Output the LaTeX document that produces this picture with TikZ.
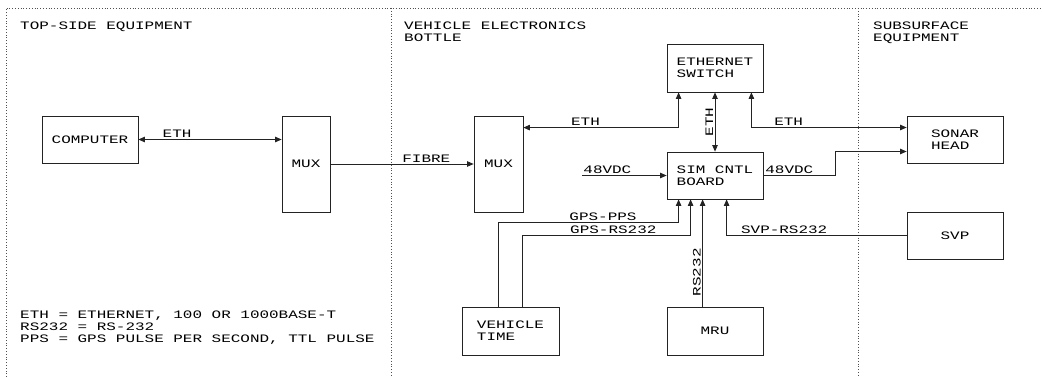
\documentclass[tikz,border=0pt]{standalone}
\usepackage{fontspec}
\newfontfamily\plotfont[FakeStretch=1.4]{Liberation Mono}
\usetikzlibrary{arrows.meta,positioning,calc}
\definecolor{ink}{RGB}{35,35,35}
\definecolor{frame}{RGB}{80,80,80}

\begin{document}
\begin{tikzpicture}[
  x=1pt, y=-1pt,
  font=\plotfont\fontsize{11.4}{12}\selectfont,
  >={Triangle[length=6.5pt,width=5.5pt]},
  unit/.style={draw=ink, fill=white, line width=0.8pt, align=left, inner sep=0pt},
  flow/.style={->, line width=0.8pt, draw=ink},
  both/.style={<->, line width=0.8pt, draw=ink},
  wire/.style={inner sep=1.5pt},
  zone/.style={draw=frame, dotted, line width=0.8pt},
  title/.style={anchor=north west, align=left, inner sep=0pt},
]
\useasboundingbox (0,0) rectangle (1042,377);
% ---------------------------------------------------------------- zones
\draw[zone] (6,377) -- (6,8) -- (1042,8);
\draw[zone] (391,8) -- (391,377);
\draw[zone] (858,8) -- (858,377);
\node[title] (ttop) at (20,22) {TOP-SIDE EQUIPMENT};
\node[title] (tveh) at (404,22) {VEHICLE ELECTRONICS\\BOTTLE};
\node[title] (tsub) at (873,22) {SUBSURFACE\\EQUIPMENT};

% ---------------------------------------------------------------- nodes
\node[unit, minimum width=96pt, minimum height=47pt] (computer) at (90,139.5) {COMPUTER};
\node[unit, minimum width=48pt, minimum height=96pt] (muxtop) at (306,164) {MUX};
\node[unit, minimum width=49pt, minimum height=96pt] (muxveh) at (498.5,164) {MUX};
\node[unit, minimum width=96pt, minimum height=48pt] (switch) at (715,68) {ETHERNET\\SWITCH};
\node[unit, minimum width=96pt, minimum height=47pt] (sim) at (715,175.5) {SIM CNTL\\BOARD};
\node[unit, minimum width=96pt, minimum height=47pt] (sonar) at (955,139.5) {SONAR\\HEAD};
\node[unit, minimum width=96pt, minimum height=47pt] (svp) at (955,235.5) {SVP};
\node[unit, minimum width=97pt, minimum height=48pt] (vtime) at (510.5,331) {VEHICLE\\TIME};
\node[unit, minimum width=96pt, minimum height=48pt] (mru) at (715,331) {MRU};
\coordinate (pwrin) at (582,175.5);

% ---------------------------------------------------------------- edges
\draw[both] (computer.east) -- node[wire, above, pos=0.27] {ETH} (computer.east -| muxtop.west);
\draw[flow] (muxtop) -- node[wire, above, pos=0.67] {FIBRE} (muxveh);
\draw[both] ([yshift=-12pt]muxveh.north east) -| node[wire, above, pos=0.2] {ETH} ([xshift=12pt]switch.south west);
\draw[both] (switch) -- node[wire, above, rotate=90] {ETH} (sim);
\draw[both] ([xshift=-12pt]switch.south east) |- node[wire, above, pos=0.62] {ETH} ([yshift=12pt]sonar.west);
\draw[flow] (pwrin) -- node[wire, above, pos=0.3] {48VDC} (sim.west);
\draw[flow] (sim.east) -- node[wire, above, pos=0.36] {48VDC} ++(72,0) |- ([yshift=-12pt]sonar.west);
\draw[flow] ([xshift=37pt]vtime.north west) -- ++(0,-84) -| node[wire, above, pos=0.29] {GPS-PPS} ([xshift=12pt]sim.south west);
\draw[flow] ([xshift=61pt]vtime.north west) -- ++(0,-71) -| node[wire, above, pos=0.27] {GPS-RS232} ([xshift=24pt]sim.south west);
\draw[flow] ([xshift=36pt]mru.north west) -- node[wire, above, rotate=90, pos=0.32] {RS232} ([xshift=36pt]sim.south west);
\draw[flow] (svp.west) -| node[wire, above, pos=0.34] {SVP-RS232} ([xshift=60pt]sim.south west);

% ---------------------------------------------------------------- legend
\node[title] (legend) at (20,311) {ETH = ETHERNET, 100 OR 1000BASE-T\\RS232 = RS-232\\PPS = GPS PULSE PER SECOND, TTL PULSE};
\end{tikzpicture}
\end{document}
